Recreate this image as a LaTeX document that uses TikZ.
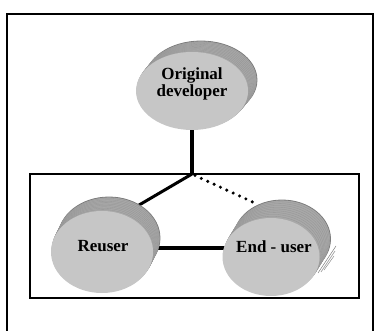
\documentclass[tikz,border=0pt]{standalone}
\usepackage{fontspec}
\setmainfont{Liberation Serif}
\usetikzlibrary{shapes.geometric}

\definecolor{facegray}{HTML}{C6C6C6}
\definecolor{sidegray}{HTML}{A8A8A8}
\definecolor{rimgray}{HTML}{959595}
\definecolor{edgegray}{HTML}{7C7C7C}

\tikzset{
  frame/.style={draw=black, line width=1.5pt},
  box/.style={draw=black, line width=1.3pt},
  link/.style={line width=4pt},
  slantlink/.style={line width=3pt},
  dotlink/.style={line width=3.4pt, line cap=round, dash pattern=on 0pt off 7pt},
  face/.style={ellipse, fill=facegray, inner sep=0pt},
  rim/.style={fill=sidegray, draw=rimgray, line width=0.3pt},
  caption/.style={font=\fontsize{17}{17.5}\selectfont\bfseries, align=center, inner sep=0pt},
}

% 3-D disk: #1 name, (#2,#3) face centre, #4/#5 radii, (#6,#7) depth offset
\newcommand\extdisk[7]{%
  \path[fill=sidegray, draw=edgegray, line width=0.8pt] ({#2+#6},{#3+#7}) ellipse [x radius=#4, y radius=#5];
  \foreach \k in {9,...,1}{%
    \pgfmathsetmacro\f{\k/10}%
    \path[rim] ({#2+\f*#6},{#3+\f*#7}) ellipse [x radius=#4, y radius=#5];
  }%
  \node[face, minimum width=2*#4, minimum height=2*#5] (#1) at (#2,#3) {};
}

\begin{document}
\begin{tikzpicture}[x=1pt, y=-1pt]
  \useasboundingbox (0,0) rectangle (374,331);

  % outer frame (open at the bottom)
  \draw[frame] (7,340) -- (7,14) -- (373,14) -- (373,340);

  % group of reuser and end-user
  \draw[box] (30,174) rectangle (359,298);

  % connector end points
  \coordinate (junction) at (192,174);
  \coordinate (devend) at (192,120);
  \coordinate (reuend) at (134,208);
  \coordinate (reumid) at (140,248);
  \coordinate (endmid) at (235,248);
  \coordinate (enddot) at (257,204);

  \draw[link] (devend) -- (junction);
  \draw[slantlink] (junction) -- (reuend);
  \draw[link] (reumid) -- (endmid);
  \draw[dotlink] ([xshift=3pt,yshift=-1.5pt]junction) -- (enddot);

  % disks
  \extdisk{dev}{192}{91}{56}{39}{9}{-11}
  \extdisk{reuser}{102}{252}{51}{41}{7}{-14}
  \extdisk{enduser}{271}{257}{48.5}{39}{11}{-18}

  % broken rim fragments on the end-user disk
  \draw[edgegray, line width=0.5pt] (318,273) -- (336,246);
  \draw[sidegray, line width=0.8pt] (321,272) -- (335,251);
  \draw[edgegray, line width=0.4pt] (324,270) -- (334,256);

  % captions
  \node[caption] (devtext) at (192,84) {Original\\developer};
  \node[caption] (reutext) at (103,246) {Reuser};
  \node[caption] (endtext) at (274,247) {End - user};
\end{tikzpicture}
\end{document}
